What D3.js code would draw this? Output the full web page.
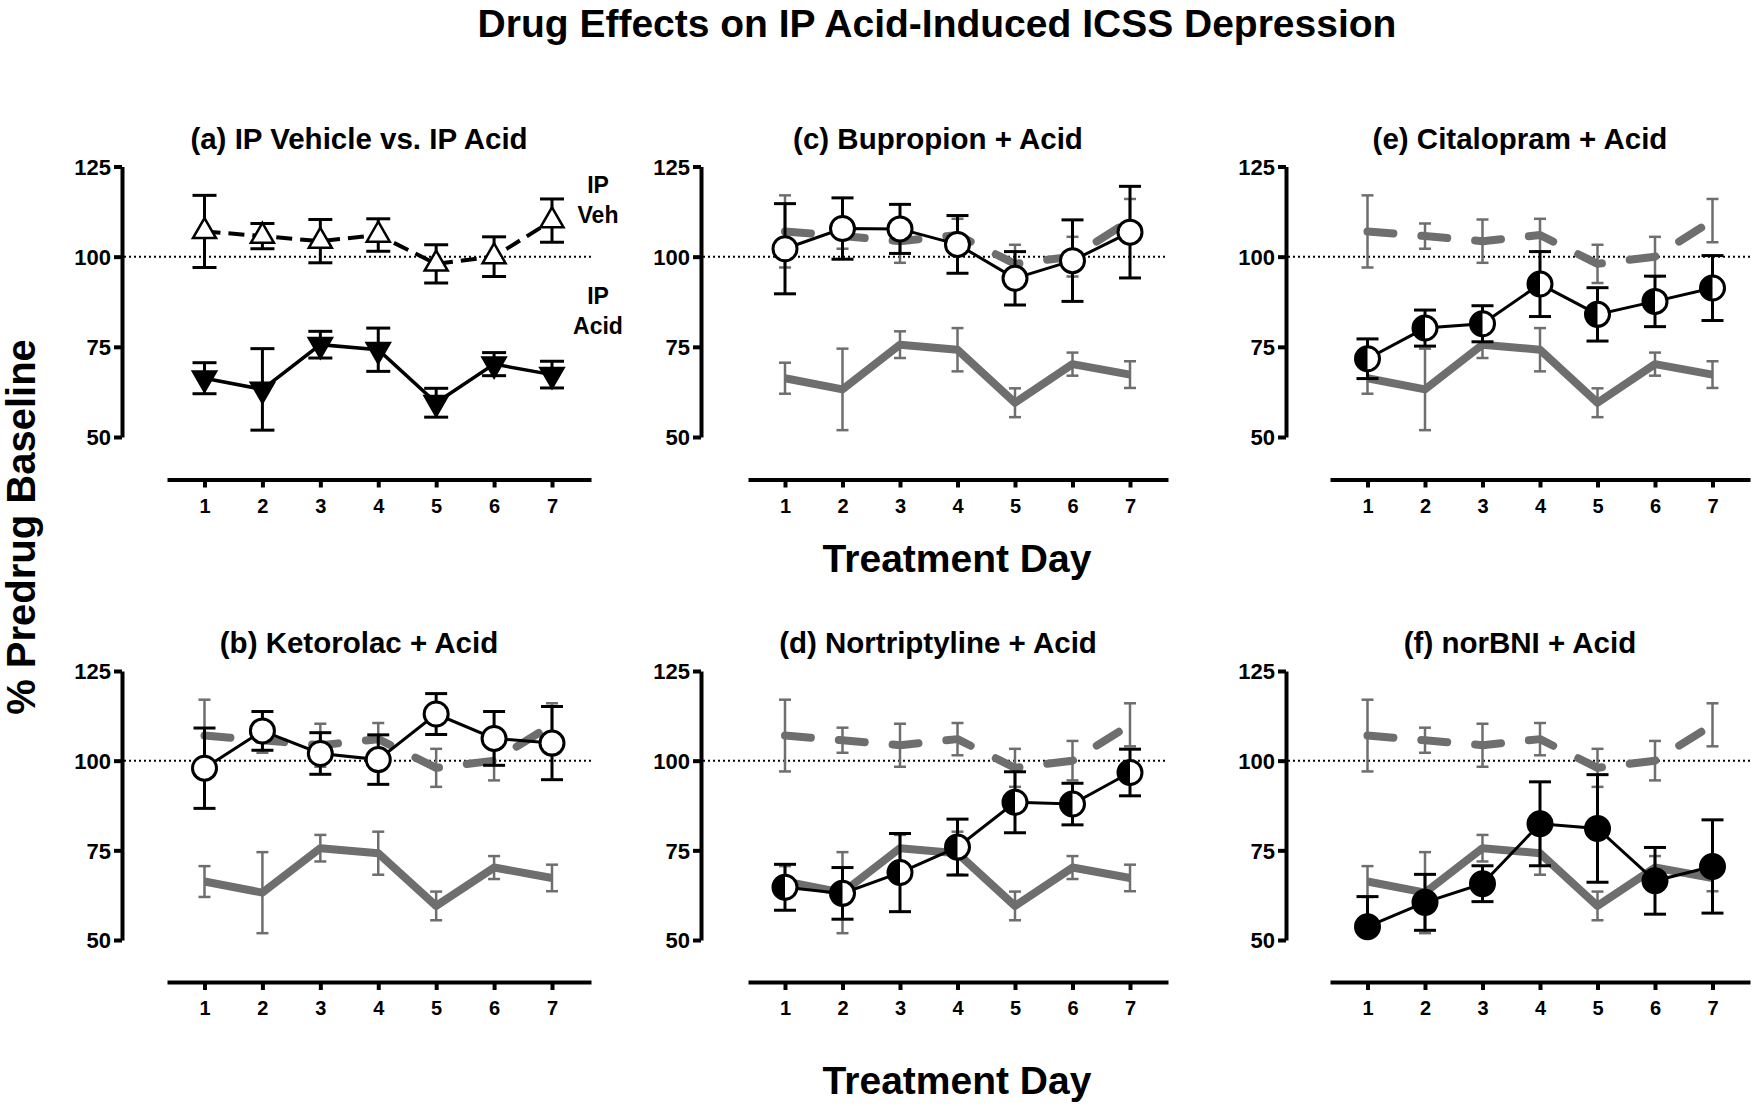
<!DOCTYPE html>
<html><head><meta charset="utf-8">
<script src="https://cdn.jsdelivr.net/npm/d3@7"></script>
<style>body{margin:0;background:#fff} text{font-family:"Liberation Sans",Arial,sans-serif;font-weight:bold;fill:#000}</style>
</head><body><svg id="c" width="1753" height="1106"></svg>
<script>
// ---------- data ----------
const days = [1,2,3,4,5,6,7];
const yTicks = [50,75,100,125];
const vehMean  = [107.0, 105.7, 104.3, 106.0, 98.0, 100.0, 110.0];
const vehSem   = [10.0, 3.5, 6.0, 4.5, 5.3, 5.5, 6.0];
const acidMean = [66.3, 63.2, 75.6, 74.2, 59.5, 70.2, 67.3];
const acidSem  = [4.3, 11.3, 3.7, 6.0, 4.0, 3.2, 3.7];
const bupMean  = [102.2, 107.8, 107.7, 103.4, 94.0, 98.9, 106.8];
const bupSem   = [12.5, 8.5, 6.8, 8.0, 7.4, 11.3, 12.7];
const citMean  = [71.7, 80.2, 81.4, 92.4, 84.0, 87.6, 91.3];
const citSem   = [5.5, 5.0, 5.0, 9.0, 7.4, 7.0, 9.0];
const ketMean  = [97.9, 108.3, 102.0, 100.3, 113.0, 106.2, 104.9];
const ketSem   = [11.2, 5.4, 5.8, 6.9, 5.7, 7.5, 10.2];
const norMean  = [64.7, 63.0, 68.8, 75.9, 88.4, 87.9, 96.7];
const norSem   = [6.4, 7.2, 10.9, 7.8, 8.5, 5.8, 6.5];
const bniMean  = [53.7, 60.5, 65.7, 82.4, 81.1, 66.5, 70.5];
const bniSem   = [8.4, 7.8, 5.0, 11.7, 15.0, 9.3, 13.0];
const panelTitles = ["(a) IP Vehicle vs. IP Acid","(b) Ketorolac + Acid","(c) Bupropion + Acid",
                     "(d) Nortriptyline + Acid","(e) Citalopram + Acid","(f) norBNI + Acid"];
const legendLabels = [["IP", 120], ["Veh", 111.6], ["IP", 89.1], ["Acid", 80.8]];
const mainTitle = "Drug Effects on IP Acid-Induced ICSS Depression";
const xTitle = "Treatment Day";
const yTitle = "% Predrug Baseline";

// ---------- layout ----------
const cols = [{ax:122, x0:167, x1:591, d1:204.5, d7:552},
              {ax:701, x0:748, x1:1168, d1:785, d7:1130},
              {ax:1286, x0:1330, x1:1750, d1:1367.5, d7:1712.5}];
const rows = [{top:166.5, bot:437, xl:479.5, ty:139},
              {top:671, bot:940, xl:982, ty:643}];
const GRAY = "#6e6e6e";

const svg = d3.select("#c");
svg.append("text").attr("x",937).attr("y",37).attr("text-anchor","middle")
  .style("font-size","39px").text(mainTitle);
svg.append("text").attr("transform","translate(35,527) rotate(-90)").attr("text-anchor","middle")
  .style("font-size","40px").text(yTitle);
[572, 1094].forEach(y=>svg.append("text").attr("x",957).attr("y",y).attr("text-anchor","middle")
  .style("font-size","39px").text(xTitle));

function mk(mean, sem){ return days.map((d,i)=>({d, m:mean[i], s:sem[i]})); }

const panels = [
  {col:0,row:0,title:panelTitles[0], type:"a"},
  {col:0,row:1,title:panelTitles[1], data:mk(ketMean,ketSem), marker:"open"},
  {col:1,row:0,title:panelTitles[2], data:mk(bupMean,bupSem), marker:"open"},
  {col:1,row:1,title:panelTitles[3], data:mk(norMean,norSem), marker:"half"},
  {col:2,row:0,title:panelTitles[4], data:mk(citMean,citSem), marker:"half"},
  {col:2,row:1,title:panelTitles[5], data:mk(bniMean,bniSem), marker:"filled"}
];

panels.forEach(p=>{
  const C = cols[p.col], R = rows[p.row];
  const x = d3.scaleLinear().domain([1,7]).range([C.d1, C.d7]);
  const xa = d3.scaleLinear().domain([x.invert(C.x0), x.invert(C.x1)]).range([C.x0, C.x1]);
  const y = d3.scaleLinear().domain([50,125]).range([R.bot, R.top]);
  const g = svg.append("g");

  g.append("text").attr("x",(C.x0+C.x1)/2 - 20).attr("y",R.ty+10).attr("text-anchor","middle")
    .style("font-size","29.5px").text(p.title);

  // axes
  const yA = g.append("g").attr("transform",`translate(${C.ax},0)`)
    .call(d3.axisLeft(y).tickValues(yTicks).tickSize(8).tickSizeOuter(0).tickPadding(3));
  const xA = g.append("g").attr("transform",`translate(0,${R.xl})`)
    .call(d3.axisBottom(xa).tickValues(days).tickSize(8).tickSizeOuter(0).tickPadding(11));
  [yA,xA].forEach(a=>{
    a.select(".domain").attr("stroke","#000").attr("stroke-width",4);
    a.selectAll(".tick line").attr("stroke","#000").attr("stroke-width",4);
    a.selectAll(".tick text").style("font-family","Liberation Sans, Arial, sans-serif").style("font-weight","bold");
  });
  yA.selectAll(".tick text").style("font-size","22px").attr("dy","0.36em");
  xA.selectAll(".tick text").style("font-size","20px");

  // reference dotted line at 100
  g.append("line").attr("x1",C.ax+2).attr("x2",C.x1).attr("y1",y(100)).attr("y2",y(100))
    .attr("stroke","#000").attr("stroke-width",2).attr("stroke-dasharray","2,3");

  const line = d3.line().x(d=>x(d.d)).y(d=>y(d.m));
  const veh = mk(vehMean, vehSem), acid = mk(acidMean, acidSem);

  function errBars(data, color, w, cap){
    data.forEach(d=>{
      const hi = d.m + d.s, lo = Math.max(d.m - d.s, 50);
      g.append("line").attr("x1",x(d.d)).attr("x2",x(d.d)).attr("y1",y(hi)).attr("y2",y(lo))
        .attr("stroke",color).attr("stroke-width",w);
      g.append("line").attr("x1",x(d.d)-cap).attr("x2",x(d.d)+cap).attr("y1",y(hi)).attr("y2",y(hi))
        .attr("stroke",color).attr("stroke-width",w);
      if (d.m - d.s >= 50)
        g.append("line").attr("x1",x(d.d)-cap).attr("x2",x(d.d)+cap).attr("y1",y(lo)).attr("y2",y(lo))
          .attr("stroke",color).attr("stroke-width",w);
    });
  }

  if (p.type === "a") {
    errBars(veh, "#000", 3, 12);
    errBars(acid, "#000", 3, 12);
    g.append("path").datum(veh).attr("d",line).attr("fill","none").attr("stroke","#000")
      .attr("stroke-width",4).attr("stroke-dasharray","16,8");
    g.append("path").datum(acid).attr("d",line).attr("fill","none").attr("stroke","#000")
      .attr("stroke-width",3.5);
    const tri = d3.symbol().type(d3.symbolTriangle).size(230);
    g.selectAll(".vt").data(veh).join("path").attr("d",tri)
      .attr("transform",d=>`translate(${x(d.d)},${y(d.m)})`)
      .attr("fill","#fff").attr("stroke","#000").attr("stroke-width",2.5);
    g.selectAll(".at").data(acid).join("path").attr("d",tri)
      .attr("transform",d=>`translate(${x(d.d)},${y(d.m)}) rotate(180)`)
      .attr("fill","#000").attr("stroke","#000").attr("stroke-width",2.5);
    const lx = C.x1 + 7;
    legendLabels.forEach(([t,v])=>
      g.append("text").attr("x",lx).attr("y",y(v)+8).attr("text-anchor","middle").style("font-size","23px").text(t));
    return;
  }

  // gray reference series
  errBars(veh, GRAY, 2.5, 6);
  errBars(acid, GRAY, 2.5, 6);
  g.append("path").datum(veh).attr("d",line).attr("fill","none").attr("stroke",GRAY)
    .attr("stroke-width",8).attr("stroke-linecap","round").attr("stroke-linejoin","round")
    .attr("stroke-dasharray","26,28");
  g.append("path").datum(acid).attr("d",line).attr("fill","none").attr("stroke",GRAY)
    .attr("stroke-width",8).attr("stroke-linejoin","round");

  // drug series
  errBars(p.data, "#000", 3, 11);
  g.append("path").datum(p.data).attr("d",line).attr("fill","none").attr("stroke","#000")
    .attr("stroke-width",3);
  const r = 12;
  p.data.forEach(d=>{
    const cx = x(d.d), cy = y(d.m);
    g.append("circle").attr("cx",cx).attr("cy",cy).attr("r",r)
      .attr("fill", p.marker==="filled" ? "#000" : "#fff").attr("stroke","#000").attr("stroke-width",3);
    if (p.marker==="half") {
      const arc = d3.arc().innerRadius(0).outerRadius(r).startAngle(Math.PI).endAngle(2*Math.PI);
      g.append("path").attr("d",arc()).attr("transform",`translate(${cx},${cy})`).attr("fill","#000");
    }
  });
});
</script></body></html>
